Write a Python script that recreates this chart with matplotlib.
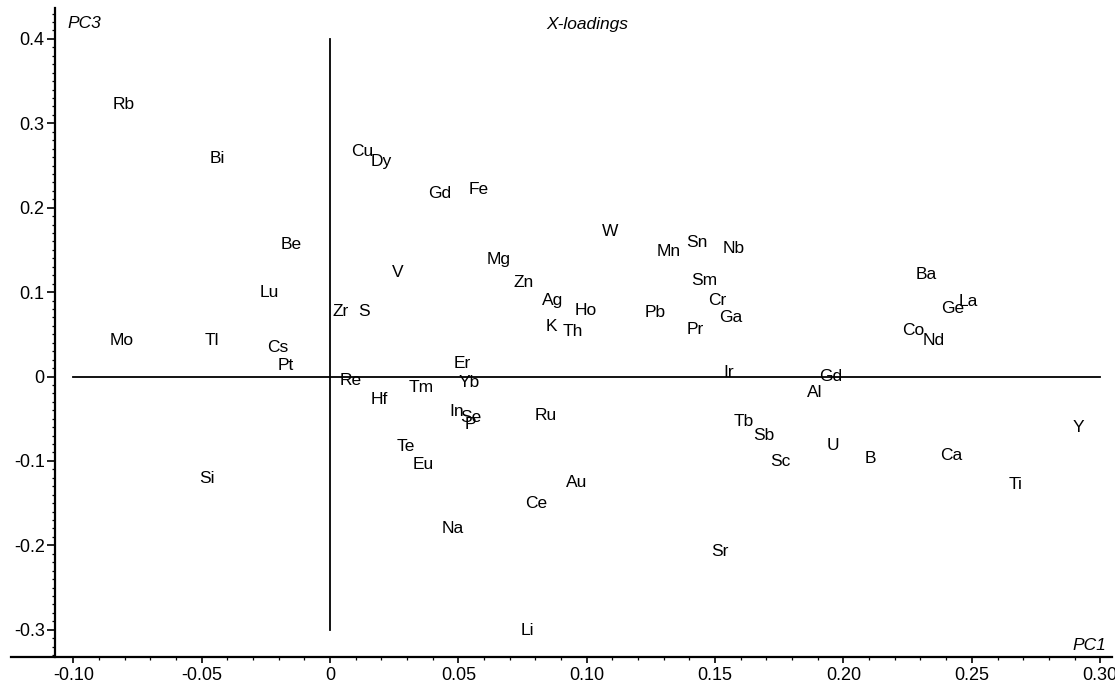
import numpy as np
import matplotlib
matplotlib.use("Agg")
import matplotlib.pyplot as plt
from matplotlib.ticker import FixedLocator, FixedFormatter

plt.rcParams['font.family'] = ['Liberation Sans', 'DejaVu Sans']
plt.rcParams['axes.unicode_minus'] = False

# --- loadings (PC1, PC3) ---
elements = ['Rb', 'Bi', 'Be', 'Lu', 'Mo', 'Tl', 'Cs', 'Pt', 'Si', 'Zr', 'S',
            'Cu', 'Dy', 'Gd', 'Fe', 'W', 'V', 'Mg', 'Zn', 'Ag', 'Ho', 'K', 'Th',
            'Mn', 'Sn', 'Nb', 'Sm', 'Cr', 'Ga', 'Pb', 'Pr', 'Ir', 'Gd', 'Al',
            'Ba', 'Ge', 'La', 'Co', 'Nd', 'Y', 'Ca', 'Ti', 'Tb', 'Sb', 'Sc',
            'U', 'B', 'Sr', 'Er', 'Re', 'Yb', 'Tm', 'Hf', 'In', 'Se', 'P',
            'Ru', 'Te', 'Eu', 'Au', 'Ce', 'Na', 'Li']
pc1 = [-0.0805, -0.0441, -0.0152, -0.0236, -0.0811, -0.0461, -0.0204, -0.0171,
       -0.0480, 0.0043, 0.0132,
       0.0127, 0.0201, 0.0426, 0.0580, 0.1091, 0.0264, 0.0658, 0.0753, 0.0866,
       0.0995, 0.0864, 0.0944,
       0.1318, 0.1429, 0.1571, 0.1457, 0.1509, 0.1561, 0.1266, 0.1422, 0.1552,
       0.1951, 0.1887,
       0.2321, 0.2426, 0.2487, 0.2272, 0.2353, 0.2917, 0.2419, 0.2672, 0.1610,
       0.1688, 0.1753,
       0.1958, 0.2106, 0.1519, 0.0513, 0.0080, 0.0543, 0.0353, 0.0190, 0.0495,
       0.0549, 0.0545,
       0.0841, 0.0296, 0.0361, 0.0961, 0.0802, 0.0476, 0.0770]
pc3 = [0.3217, 0.2585, 0.1566, 0.0993, 0.0432, 0.0432, 0.0346, 0.0136,
       -0.1206, 0.0776, 0.0776,
       0.2664, 0.2545, 0.2171, 0.2218, 0.1716, 0.1230, 0.1389, 0.1111, 0.0898,
       0.0780, 0.0598, 0.0539,
       0.1479, 0.1585, 0.1519, 0.1143, 0.0898, 0.0701, 0.0761, 0.0559, 0.0050,
       0.0006, -0.0195,
       0.1203, 0.0808, 0.0886, 0.0551, 0.0432, -0.0607, -0.0930, -0.1277, -0.0536,
       -0.0693, -0.1009,
       -0.0823, -0.0969, -0.2076, 0.0156, -0.0045, -0.0073, -0.0133, -0.0267,
       -0.0409, -0.0480, -0.0563,
       -0.0456, -0.0832, -0.1040, -0.1254, -0.1502, -0.1799, -0.3004]

x_ticks = [-0.10, -0.05, 0.0, 0.05, 0.10, 0.15, 0.20, 0.25, 0.30]
x_tick_labels = ['-0.10', '-0.05', '0', '0.05', '0.10', '0.15', '0.20', '0.25', '0.30']
y_ticks = [-0.3, -0.2, -0.1, 0.0, 0.1, 0.2, 0.3, 0.4]
y_tick_labels = ['-0.3', '-0.2', '-0.1', '0', '0.1', '0.2', '0.3', '0.4']

fig = plt.figure(figsize=(11.15, 6.84), dpi=100)
ax = fig.add_axes([11 / 1115, 27 / 684, 1101 / 1115, 649 / 684])
ax.set_xlim(-0.1243, 0.3046)
ax.set_ylim(-0.3323, 0.4366)

# --- spines: y-axis sits just left of -0.10, x-axis at the bottom ---
for side in ('top', 'right'):
    ax.spines[side].set_visible(False)
ax.spines['left'].set_position(('data', -0.1071))
ax.spines['left'].set_linewidth(1.6)
ax.spines['bottom'].set_linewidth(1.6)

ax.xaxis.set_major_locator(FixedLocator(x_ticks))
ax.xaxis.set_major_formatter(FixedFormatter(x_tick_labels))
ax.yaxis.set_major_locator(FixedLocator(y_ticks))
ax.yaxis.set_major_formatter(FixedFormatter(y_tick_labels))
ax.xaxis.set_minor_locator(FixedLocator(np.round(np.arange(-0.10, 0.301, 0.01), 2)))
ax.yaxis.set_minor_locator(FixedLocator(np.round(np.arange(-0.33, 0.431, 0.01), 2)))
ax.tick_params(axis='both', which='major', direction='out', width=1.2,
               labelsize=13, colors='black')
ax.tick_params(axis='x', which='major', length=4.5, pad=3)
ax.tick_params(axis='y', which='major', length=5.5, pad=2)
ax.tick_params(axis='both', which='minor', direction='out', length=2.2, width=0.9)

# --- zero lines ---
ax.plot([-0.10, 0.30], [0, 0], color='black', lw=1.3)
ax.plot([0, 0], [-0.30, 0.40], color='black', lw=1.3)

# --- element labels ---
for name, x, y in zip(elements, pc1, pc3):
    ax.text(x, y, name, fontsize=12.5, ha='center', va='center', color='black')

ax.text(0.0, 0.0, '', transform=ax.transAxes)
fig.text(84 / 1115, 1 - 24 / 684, 'PC3', fontsize=12.5, style='italic',
         ha='center', va='center')
fig.text(587 / 1115, 1 - 25 / 684, 'X-loadings', fontsize=12.5, style='italic',
         ha='center', va='center')
fig.text(1089 / 1115, 1 - 646 / 684, 'PC1', fontsize=12.5, style='italic',
         ha='center', va='center')

fig.savefig('out.png', dpi=100)
